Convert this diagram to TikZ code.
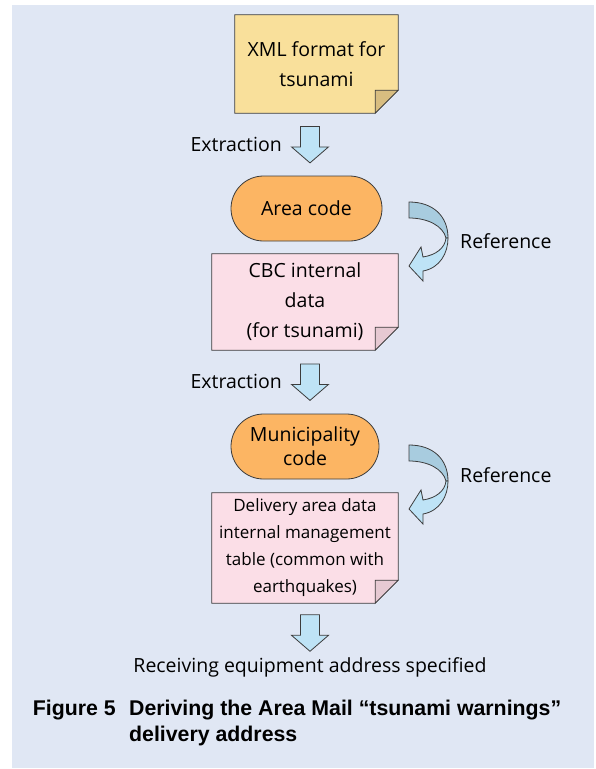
\documentclass[tikz,border=0pt]{standalone}
\usepackage{fontspec}
\setmainfont{Open Sans}
\newfontfamily\capfont{Liberation Sans}
\usepackage{tikz}
\usetikzlibrary{backgrounds, calc, positioning, shapes.misc}
\definecolor{bgblue}{HTML}{E0E7F4}
\definecolor{linegray}{HTML}{3C3C3C}
\definecolor{noteyellow}{HTML}{F9E09B}
\definecolor{foldyellow}{HTML}{D8BD80}
\definecolor{notepink}{HTML}{FBDEE7}
\definecolor{foldpink}{HTML}{E6C9D2}
\definecolor{termorange}{HTML}{FCB563}
\definecolor{arrowblue}{HTML}{BEE3F6}
\definecolor{arrowdark}{HTML}{A8CCDF}

\begin{document}
\begin{tikzpicture}[x=1pt, y=1pt,
		txt/.style={inner sep=0pt, align=center, font=\fontsize{19.5}{30}\selectfont},
		term/.style={txt, rounded rectangle, draw=linegray, line width=0.8pt, fill=termorange, minimum height=65pt, font=\fontsize{19.5}{24}\selectfont},
		outline/.style={draw=linegray, line width=0.8pt, line join=miter},
		captxt/.style={inner sep=0pt, align=left, font=\capfont\bfseries\fontsize{21.3}{26}\selectfont},
		downarr/.pic={\draw[outline, fill=arrowblue] (-9.5,18) -- (9.5,18) -- (9.5,-2.5) -- (18.5,-2.5) -- (0,-18.5) -- (-18.5,-2.5) -- (-9.5,-2.5) -- cycle;},
		refarr/.pic={
			\draw[outline, fill=arrowdark] (-39,36) .. controls (-15,36) and (0,22) .. (0,0) -- (-2,0) .. controls (-5,12) and (-20,20) .. (-39,20) -- cycle;
			\draw[outline, fill=arrowblue] (0,0) .. controls (0,-15) and (-8,-30) .. (-25,-33) -- (-25,-43) -- (-39,-28) -- (-27,-9) -- (-25,-19) .. controls (-12,-17) and (-3,-10) .. (-2,0) -- cycle;}]
		\useasboundingbox (0,0) rectangle (595,-769);
		
		\node [txt, minimum width=163, minimum height=98] (xml) at (316.5,-64) {XML format for\\tsunami};
		\node [term, minimum width=151] (area) at (306.5,-208.5) {Area code};
		\node [txt, minimum width=186, minimum height=96] (cbc) at (305,-302) {CBC internal\\data\\ (for tsunami)};
		\node [term, minimum width=148] (muni) at (305,-446.5) {Municipality\\code};
		\node [txt, minimum width=186, minimum height=110, font=\fontsize{17}{27}\selectfont] (deliv) at (305,-548) {Delivery area data\\internal management\\table (common with\\earthquakes)};
		\node [txt] (recv) at (310,-667) {Receiving equipment address specified};
		
		\path ($(xml.south)!.5!(area.north)$) coordinate (m1) ($(cbc.south)!.5!(muni.north)$) coordinate (m2) ($(deliv.south)!.55!(recv.north)$) coordinate (m3);
		\foreach \m in {1,2,3}{
			\coordinate (a\m) at (m\m -| recv);
			\pic at (a\m) {downarr};
		}
		\node [txt, left=28pt of a1] (ext1) {Extraction};
		\node [txt, left=28pt of a2] (ext2) {Extraction};
		
		\coordinate (r1) at (448,-238);
		\coordinate (r2) at (448,-481);
		\pic at (r1) {refarr};
		\pic at (r2) {refarr};
		\node [txt, anchor=west] (ref1) at (460,-241) {Reference};
		\node [txt, anchor=west] (ref2) at (460,-475) {Reference};
		
		\node [captxt, anchor=north east] (capnum) at (116,-700) {Figure 5};
		\node [captxt, anchor=north west] (captext) at (129,-700) {Deriving the Area Mail “tsunami warnings”\\delivery address};
		
		\begin{scope}[on background layer]
			\fill [bgblue] (12,-5) rectangle (594,-768);
			\foreach \nm/\col/\fold in {xml/noteyellow/foldyellow, cbc/notepink/foldpink, deliv/notepink/foldpink}{
				\draw [outline, fill=\col] (\nm.north west) -- (\nm.north east) -- ([yshift=23]\nm.south east) -- ([xshift=-23]\nm.south east) -- (\nm.south west) -- cycle;
				\draw [outline, fill=\fold] ([xshift=-23]\nm.south east) -- ([xshift=-23,yshift=23]\nm.south east) -- ([yshift=23]\nm.south east) -- cycle;
			}
		\end{scope}
	\end{tikzpicture}
\end{document}
